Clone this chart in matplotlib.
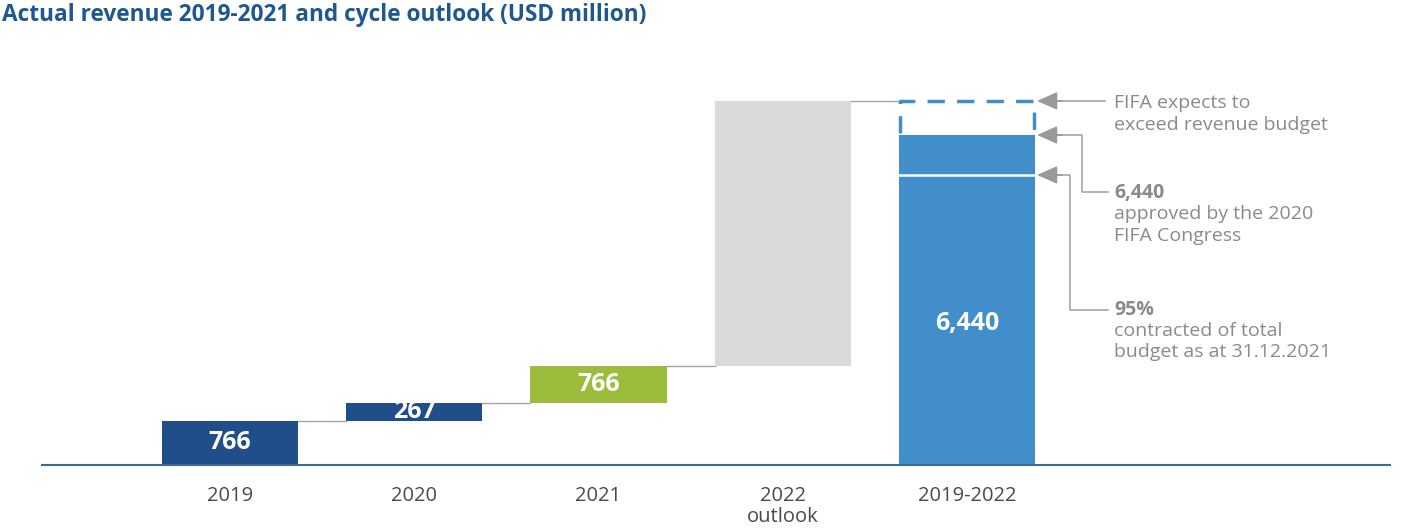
import numpy as np
import matplotlib
matplotlib.use('Agg')
import matplotlib.pyplot as plt

# donnees (USD million), hauteurs
categories = ['2019', '2020', '2021', '2022\noutlook', '2019-2022']
step_values = [860, 350, 720, 5175]
step_labels = ['766', '267', '766', '']
total_value = 6440
total_label = '6,440'
contracted_value = 5660
expected_value = 7105

c_dark = '#1f4e8b'
c_green = '#9cbd3c'
c_grey = '#d9d9d9'
c_blue = '#418ecb'
c_txt = '#8a8a8a'
c_line = '#a6a6a6'
step_colors = [c_dark, c_dark, c_green, c_grey]

plt.rcParams['font.family'] = ['Open Sans', 'DejaVu Sans']

W, H = 1408, 532
fig = plt.figure(figsize=(W/100, H/100), dpi=100)
# axes: x de 42 a 1390 px, y de 465 a 60 px
ax = fig.add_axes([42/W, (H-465)/H, (1390-42)/W, (465-60)/H])
unit = 184.25
scale = total_value/330.0
ax.set_xlim(-(230-42)/unit, (1390-230)/unit)
ax.set_ylim(0, (465-60)*scale)

def px(x):
    return (x-230)/unit

def py(y):
    return (465-y)*scale

bw = 0.74
x = np.arange(len(categories))
bottoms = np.concatenate([[0], np.cumsum(step_values)[:-1]])
ax.bar(x[:4], step_values, bottom=bottoms, width=bw, color=step_colors, zorder=2)
ax.bar(x[4], total_value, width=bw, color=c_blue, zorder=2)

# traits de liaison
tops = bottoms + np.array(step_values)
for i in range(3):
    ax.plot([x[i]+bw/2, x[i+1]-bw/2], [tops[i], tops[i]], color=c_line, lw=1, zorder=1)
ax.plot([x[3]+bw/2, x[4]-bw/2], [tops[3], tops[3]], color=c_line, lw=1, zorder=1)

# etiquettes
for i in range(3):
    ax.text(x[i], bottoms[i]+step_values[i]/2, step_labels[i], ha='center', va='center',
            color='white', fontsize=18, fontweight='bold', zorder=3)
ax.text(x[4], total_value*0.43, total_label, ha='center', va='center',
        color='white', fontsize=18, fontweight='bold', zorder=3)

# ligne contractee
ax.plot([x[4]-bw/2, x[4]+bw/2], [contracted_value, contracted_value], color='white', lw=1.8, zorder=3)

# cadre pointille
l, r = x[4]-bw/2+0.005, x[4]+bw/2-0.005
ax.plot([l, l, r, r], [total_value+40, expected_value, expected_value, total_value+40],
        color=c_blue, lw=2.5, dashes=(5, 3.5), zorder=2)

# fleches d'annotation
tip = px(1037)
def fleche(path_x, path_y, y_tip):
    ax.plot(path_x, path_y, color=c_line, lw=1.2, zorder=1)
    ax.annotate('', xy=(tip, y_tip), xytext=(px(1062), y_tip),
                arrowprops=dict(arrowstyle='-|>,head_length=1.25,head_width=0.55',
                                color='#999999', lw=1.2, shrinkA=0, shrinkB=0))

fleche([px(1055), px(1105)], [expected_value, expected_value], expected_value)
fleche([px(1055), px(1082), px(1082), px(1108)],
       [total_value, total_value, py(192), py(192)], total_value)
fleche([px(1055), px(1070), px(1070), px(1108)],
       [contracted_value, contracted_value, py(310), py(310)], contracted_value)

tx = px(1114)
fs = 14
ax.text(tx, py(103), 'FIFA expects to', color=c_txt, fontsize=fs, va='center')
ax.text(tx, py(125), 'exceed revenue budget', color=c_txt, fontsize=fs, va='center')
ax.text(tx, py(193), '6,440', color=c_txt, fontsize=fs, va='center', fontweight='bold')
ax.text(tx, py(214), 'approved by the 2020', color=c_txt, fontsize=fs, va='center')
ax.text(tx, py(236), 'FIFA Congress', color=c_txt, fontsize=fs, va='center')
ax.text(tx, py(310), '95%', color=c_txt, fontsize=fs, va='center', fontweight='bold')
ax.text(tx, py(331), 'contracted of total', color=c_txt, fontsize=fs, va='center')
ax.text(tx, py(352), 'budget as at 31.12.2021', color=c_txt, fontsize=fs, va='center')

# axes
for s in ['top', 'right', 'left']:
    ax.spines[s].set_visible(False)
ax.spines['bottom'].set_color('#3d6b8e')
ax.spines['bottom'].set_linewidth(1.5)
ax.set_yticks([])
ax.set_xticks(x)
ax.set_xticklabels(categories, fontsize=14.5, color='#4a4a4a', linespacing=1.1)
ax.tick_params(axis='x', length=0, pad=15)

fig.text(2/W, 1-15/H, 'Actual revenue 2019-2021 and cycle outlook (USD million)',
         color='#1f5791', fontsize=16.3, fontweight='bold', va='center', ha='left')

fig.savefig('out.png', dpi=100)
